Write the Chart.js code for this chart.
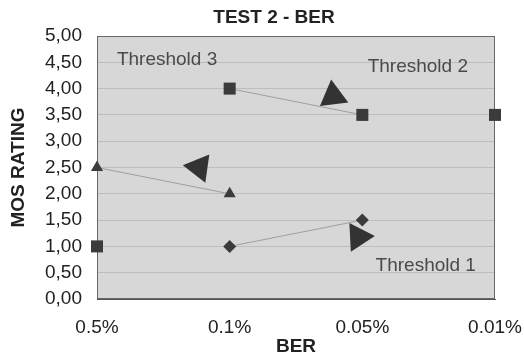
<!DOCTYPE html>
<html>
<head>
<meta charset="utf-8">
<script src="https://cdn.jsdelivr.net/npm/chart.js@4/dist/chart.umd.min.js"></script>
<style>
  html, body { margin: 0; padding: 0; background: #fff; }
</style>
</head>
<body>
<canvas id="berChart" width="524" height="358"></canvas>
<script>
// BER categories along the x axis, MOS values per threshold series
const berLabels = ['0.5%', '0.1%', '0.05%', '0.01%'];
const threshold1 = [null, 1.0, 1.5, null];   // diamonds
const threshold2 = [null, 4.0, 3.5, null];   // squares
const threshold3 = [2.5, 2.0, null, null];   // triangles
const loosePoints = [1.0, null, null, 3.5];  // single squares, no line

// direction arrows (x = category index, y = MOS, angle in degrees)
const arrowX = [0.77, 1.78, 1.97];
const arrowY = [2.50, 3.86, 1.18];
const arrowAngle = [-82, -7, 87];

// threshold notes
const noteText = ['Threshold 3', 'Threshold 2', 'Threshold 1'];
const noteX = [0.15, 2.04, 2.10];
const noteY = [4.54, 4.41, 0.63];

const FONT = "'Liberation Sans', Arial, sans-serif";
const MARK = '#3b3b3b';

function toPoints(values) {
  return values
    .map((v, i) => (v === null ? null : { x: i, y: v }))
    .filter(p => p !== null);
}

const plotBox = {
  id: 'plotBox',
  beforeDraw(chart) {
    const { ctx, chartArea: a } = chart;
    ctx.save();
    ctx.fillStyle = '#d7d7d7';
    ctx.fillRect(a.left, a.top, a.width, a.height);
    ctx.restore();
  },
  beforeDatasetsDraw(chart) {
    const { ctx, chartArea: a } = chart;
    ctx.save();
    ctx.strokeStyle = '#666';
    ctx.lineWidth = 1;
    ctx.strokeRect(a.left + 0.5, a.top + 0.5, a.width - 1, a.height - 1);
    ctx.restore();
  },
  afterDraw(chart) {
    const { ctx, chartArea: a, scales } = chart;
    ctx.save();
    // threshold notes
    ctx.font = '19px ' + FONT;
    ctx.fillStyle = '#4a4a4a';
    ctx.textAlign = 'left';
    ctx.textBaseline = 'middle';
    noteText.forEach((t, i) => {
      ctx.fillText(t, scales.x.getPixelForValue(noteX[i]), scales.y.getPixelForValue(noteY[i]));
    });
    // chart title
    ctx.font = 'bold 19px ' + FONT;
    ctx.fillStyle = '#222';
    ctx.textAlign = 'center';
    ctx.fillText('TEST 2 - BER', (a.left + a.right) / 2 - 22, 18);
    ctx.restore();
  }
};

const lineStyle = {
  type: 'line',
  showLine: true,
  borderColor: '#a0a0a0',
  borderWidth: 1,
  pointBackgroundColor: MARK,
  pointBorderColor: MARK,
  pointBorderWidth: 0,
  clip: false
};

new Chart(document.getElementById('berChart'), {
  type: 'scatter',
  data: {
    datasets: [
      Object.assign({}, lineStyle, { label: 'Threshold 1', data: toPoints(threshold1), pointStyle: 'rectRot', pointRadius: 6.5 }),
      Object.assign({}, lineStyle, { label: 'Threshold 2', data: toPoints(threshold2), pointStyle: 'rect', pointRadius: 8.5 }),
      Object.assign({}, lineStyle, { label: 'Threshold 3', data: toPoints(threshold3), pointStyle: 'triangle', pointRadius: 7 }),
      Object.assign({}, lineStyle, { label: 'Other', data: toPoints(loosePoints), showLine: false, pointStyle: 'rect', pointRadius: 8.5 }),
      {
        label: 'Arrows',
        data: arrowX.map((x, i) => ({ x: x, y: arrowY[i] })),
        showLine: false,
        pointStyle: 'triangle',
        pointRadius: 16.5,
        pointRotation: arrowAngle,
        pointBackgroundColor: '#333',
        pointBorderColor: '#333',
        pointBorderWidth: 0,
        clip: false
      }
    ]
  },
  options: {
    responsive: false,
    animation: false,
    layout: { padding: { top: 36, right: 29, bottom: 0, left: 0 } },
    plugins: {
      legend: { display: false },
      tooltip: { enabled: false },
      title: { display: false }
    },
    scales: {
      x: {
        type: 'linear',
        min: 0,
        max: 3,
        afterFit: scale => {
          scale.height = 59;
          scale.paddingLeft = 0;
          scale.paddingRight = 0;
        },
        grid: { display: false, drawTicks: false },
        border: { display: true, color: '#555' },
        ticks: {
          stepSize: 1,
          padding: 17,
          color: '#222',
          font: { family: FONT, size: 19 },
          callback: v => berLabels[v]
        },
        title: {
          display: true,
          text: 'BER',
          color: '#222',
          padding: { top: 0, bottom: 0 },
          font: { family: FONT, size: 19, weight: 'bold' }
        }
      },
      y: {
        min: 0,
        max: 5,
        afterFit: scale => { scale.width = 97; },
        grid: { color: '#bdbdbd', drawTicks: false },
        border: { display: true, color: '#555' },
        ticks: {
          stepSize: 0.5,
          padding: 15,
          color: '#222',
          font: { family: FONT, size: 19 },
          callback: v => v.toFixed(2).replace('.', ',')
        },
        title: {
          display: true,
          text: 'MOS RATING',
          color: '#222',
          padding: { top: 7, bottom: 0 },
          font: { family: FONT, size: 19, weight: 'bold' }
        }
      }
    }
  },
  plugins: [plotBox]
});
</script>
</body>
</html>
